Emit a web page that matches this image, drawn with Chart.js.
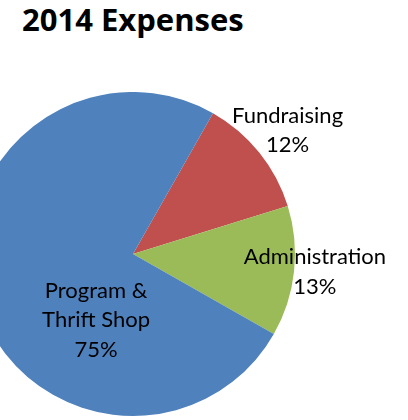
<!DOCTYPE html>
<html>
<head>
<meta charset="utf-8">
<script src="https://cdn.jsdelivr.net/npm/chart.js@4"></script>
<style>
  html, body { margin: 0; padding: 0; width: 408px; height: 420px; overflow: hidden; background: #fff; }
  #title {
    position: absolute; left: 22px; top: -2px;
    font: bold 31px 'Open Sans', sans-serif; color: #000; white-space: nowrap;
  }
  #wrap { position: absolute; left: -29px; top: 92px; width: 437px; height: 328px; }
</style>
</head>
<body>
<div id="title">2014 Expenses</div>
<div id="wrap"><canvas id="pie"></canvas></div>
<script>
  const categories = ['Fundraising', 'Administration', 'Program & Thrift Shop'];
  const labelLines = [['Fundraising'], ['Administration'], ['Program &', 'Thrift Shop']];
  const percentages = [12, 13, 75];
  const sliceColors = ['#C0504D', '#9BBB59', '#4F81BD'];

  // label block centres, as fractions of the pie radius from its centre
  const LABEL_SPOTS = [[0.954, -0.762], [1.123, 0.111], [-0.228, 0.407]];
  const LINE_H = 29.5;

  const sliceLabels = {
    id: 'sliceLabels',
    afterDatasetsDraw(chart) {
      const ctx = chart.ctx;
      const arcs = chart.getDatasetMeta(0).data;
      ctx.save();
      ctx.font = '22px Lato, sans-serif';
      ctx.fillStyle = '#000';
      ctx.textAlign = 'center';
      ctx.textBaseline = 'middle';
      arcs.forEach((arc, i) => {
        const lines = [...labelLines[i], percentages[i] + '%'];
        const cx = arc.x + LABEL_SPOTS[i][0] * arc.outerRadius;
        const cy = arc.y + LABEL_SPOTS[i][1] * arc.outerRadius;
        const top = cy - (lines.length - 1) * LINE_H / 2;
        lines.forEach((t, k) => ctx.fillText(t, cx, top + k * LINE_H));
      });
      ctx.restore();
    }
  };

  new Chart(document.getElementById('pie'), {
    type: 'pie',
    data: {
      labels: categories,
      datasets: [{
        data: percentages,
        backgroundColor: sliceColors,
        borderWidth: 0,
        hoverOffset: 0
      }]
    },
    options: {
      responsive: true,
      maintainAspectRatio: false,
      animation: false,
      rotation: 29.6,
      layout: { padding: { left: 0, top: 0, right: 113, bottom: 4 } },
      plugins: {
        legend: { display: false },
        tooltip: { enabled: false }
      }
    },
    plugins: [sliceLabels]
  });
</script>
</body>
</html>
